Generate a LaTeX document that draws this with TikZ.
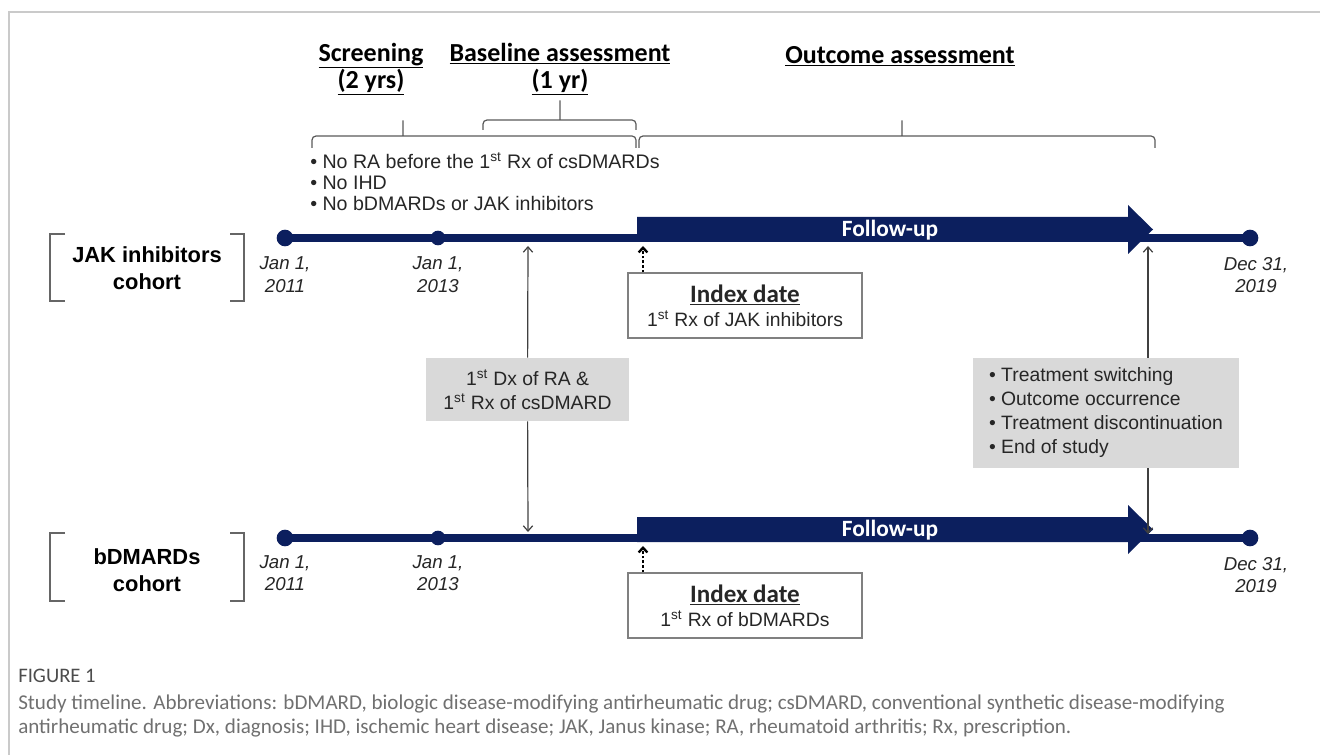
\documentclass[tikz,border=0pt]{standalone}
\usepackage{fontspec}
\setmainfont{Liberation Sans}
\newfontfamily\hdfont{Carlito}
\usetikzlibrary{arrows.meta,positioning}
\definecolor{navy}{HTML}{0C1F5E}
\definecolor{boxgray}{HTML}{D9D9D9}
\definecolor{framegray}{HTML}{CACACA}
\definecolor{capgray}{HTML}{707070}
\definecolor{txtgray}{HTML}{262626}
\tikzset{
  dot/.style={circle, fill=navy, inner sep=0pt, minimum size=12.5pt},
  tline/.style={navy, line width=6pt},
  futext/.style={text=white, font=\hdfont\bfseries\fontsize{17.5}{19}\selectfont},
  phase/.style={align=center, inner sep=0pt, font=\hdfont\bfseries\fontsize{19.5}{20}\selectfont},
  brc/.style={draw=black!65, line width=0.9pt, rounded corners=3pt},
  datelbl/.style={align=center, inner sep=0pt, text=txtgray, font=\itshape\fontsize{14}{17}\selectfont},
  cohort/.style={align=center, inner sep=0pt, font=\bfseries\fontsize{16.4}{20}\selectfont},
  bracket/.style={draw=black!60, line width=1.3pt},
  idxbox/.style={draw=black!50, line width=0.8pt, align=center, minimum width=175.5pt,
    minimum height=48.75pt, text=txtgray, font=\fontsize{14.5}{18}\selectfont},
  graybox/.style={fill=boxgray, inner sep=0pt, text=txtgray, font=\fontsize{14.5}{18}\selectfont},
  excl/.style={align=left, inner sep=0pt, text=txtgray, font=\fontsize{14.7}{16}\selectfont},
  thinarr/.style={-{Straight Barb[length=4pt,width=7pt]}, draw=black!75, line width=0.9pt},
  dotarr/.style={-{Straight Barb[length=3.5pt,width=6.5pt]}, line width=1.8pt, dash pattern=on 2pt off 1.5pt},
}

\begin{document}
\begin{tikzpicture}[x=0.75pt, y=-0.75pt]
\useasboundingbox (0,0) rectangle (1320,755);
  \draw[framegray, line width=1.5pt] (9,755) -- (9,12) -- (1320,12);

  % phase headings and braces
  \node[phase] (hscr) at (371,69) {\underline{Screening}\\\underline{(2 yrs)}};
  \node[phase] (hbase) at (560,69) {\underline{Baseline assessment}\\\underline{(1 yr)}};
  \node[phase] (hout) at (900,56) {\underline{Outcome assessment}};
  \draw[brc] (312,148) |- (399,136) .. controls (403,136) .. (403,118)
    .. controls (403,136) .. (407,136) -| (636,148);
  \draw[brc] (483,130) |- (556,120) .. controls (560,120) .. (560,98)
    .. controls (560,120) .. (564,120) -| (636,130);
  \draw[brc] (639,148) |- (898,136) .. controls (902,136) .. (902,118)
    .. controls (902,136) .. (906,136) -| (1155,148);
  \node[excl, anchor=north west] (excl) at (310,152)
    {\textbullet\ No RA before the 1\textsuperscript{st} Rx of csDMARDs\\
     \textbullet\ No IHD\\
     \textbullet\ No bDMARDs or JAK inhibitors};

\begin{scope}
  % JAK inhibitors cohort
  \node[cohort] (jak) at (147,268) {JAK inhibitors\\cohort};
  \draw[bracket] (65,234) -- (50,234) -- (50,301) -- (65,301);
  \draw[bracket] (230,234) -- (244,234) -- (244,301) -- (230,301);
  \node[dot] (a1) at (285,238) {};
  \node[dot, minimum size=11pt] (a2) at (438,238) {};
  \node[dot] (a3) at (1250,238) {};
  \draw[tline] (a1.center) -- (a3.center);
  \fill[navy] (637,217) -- (1128,217) -- (1128,205) -- (1153,229.5) -- (1128,254)
    -- (1128,242) -- (637,242) -- cycle;
  \node[futext] (fu1) at (890,230) {Follow-up};
  \node[datelbl] (da1) at (285,275) {Jan 1,\\2011};
  \node[datelbl] (da2) at (438,275) {Jan 1,\\2013};
  \node[datelbl] (da3) at (1256,275) {Dec 31,\\2019};
  \node[idxbox] (idx1) at (745,305.5)
    {{\hdfont\bfseries\fontsize{18.8}{18}\selectfont\underline{Index date}}\\
     1\textsuperscript{st} Rx of JAK inhibitors};
  \coordinate (ix1) at (643,246);
  \draw[dotarr] (idx1.north -| ix1) -- (ix1);
\end{scope}

\begin{scope}
  % bDMARDs cohort
  \node[cohort] (bdm) at (147,570) {bDMARDs\\cohort};
  \draw[bracket] (65,533) -- (50,533) -- (50,601) -- (65,601);
  \draw[bracket] (230,533) -- (244,533) -- (244,601) -- (230,601);
  \node[dot] (b1) at (285,538) {};
  \node[dot, minimum size=11pt] (b2) at (438,538) {};
  \node[dot] (b3) at (1250,538) {};
  \draw[tline] (b1.center) -- (b3.center);
  \fill[navy] (637,517) -- (1128,517) -- (1128,505) -- (1153,529.5) -- (1128,554)
    -- (1128,542) -- (637,542) -- cycle;
  \node[futext] (fu2) at (890,530) {Follow-up};
  \node[datelbl] (db1) at (285,573) {Jan 1,\\2011};
  \node[datelbl] (db2) at (438,573) {Jan 1,\\2013};
  \node[datelbl] (db3) at (1256,575) {Dec 31,\\2019};
  \node[idxbox] (idx2) at (745,605.5)
    {{\hdfont\bfseries\fontsize{18.8}{18}\selectfont\underline{Index date}}\\
     1\textsuperscript{st} Rx of bDMARDs};
  \coordinate (ix2) at (643,546);
  \draw[dotarr] (idx2.north -| ix2) -- (ix2);
\end{scope}

  % diagnosis and end events
  \node[graybox, align=center, minimum width=152.25pt, minimum height=47.25pt] (dx) at (527.5,389.5)
    {1\textsuperscript{st} Dx of RA \&\\1\textsuperscript{st} Rx of csDMARD};
  \coordinate (up1) at (528,246);
  \coordinate (dn1) at (528,532);
  \draw[thinarr] (dx) -- (up1);
  \draw[thinarr] (dx) -- (dn1);
  \node[graybox, align=left, minimum width=200pt, minimum height=82.5pt] (ev) at (1106,413)
    {\textbullet\ Treatment switching\\
     \textbullet\ Outcome occurrence\\
     \textbullet\ Treatment discontinuation\\
     \textbullet\ End of study};
  \coordinate (up2) at (1148,246);
  \coordinate (dn2) at (1148,534);
  \draw[thinarr] (ev.north -| up2) -- (up2);
  \draw[thinarr] (ev.south -| dn2) -- (dn2);

  % caption
  \node[anchor=west, inner sep=0pt, text=black!70, font=\hdfont\fontsize{15.5}{16}\selectfont] (figlbl) at (18,676) {FIGURE 1};
  \node[below=9pt of figlbl.south west, anchor=north west, inner sep=0pt, align=left, text=capgray,
    font=\hdfont\fontsize{15.8}{17.5}\selectfont] (capt)
    {Study timeline. Abbreviations: bDMARD, biologic disease-modifying antirheumatic drug; csDMARD, conventional synthetic disease-modifying\\
     antirheumatic drug; Dx, diagnosis; IHD, ischemic heart disease; JAK, Janus kinase; RA, rheumatoid arthritis; Rx, prescription.};
\end{tikzpicture}
\end{document}
